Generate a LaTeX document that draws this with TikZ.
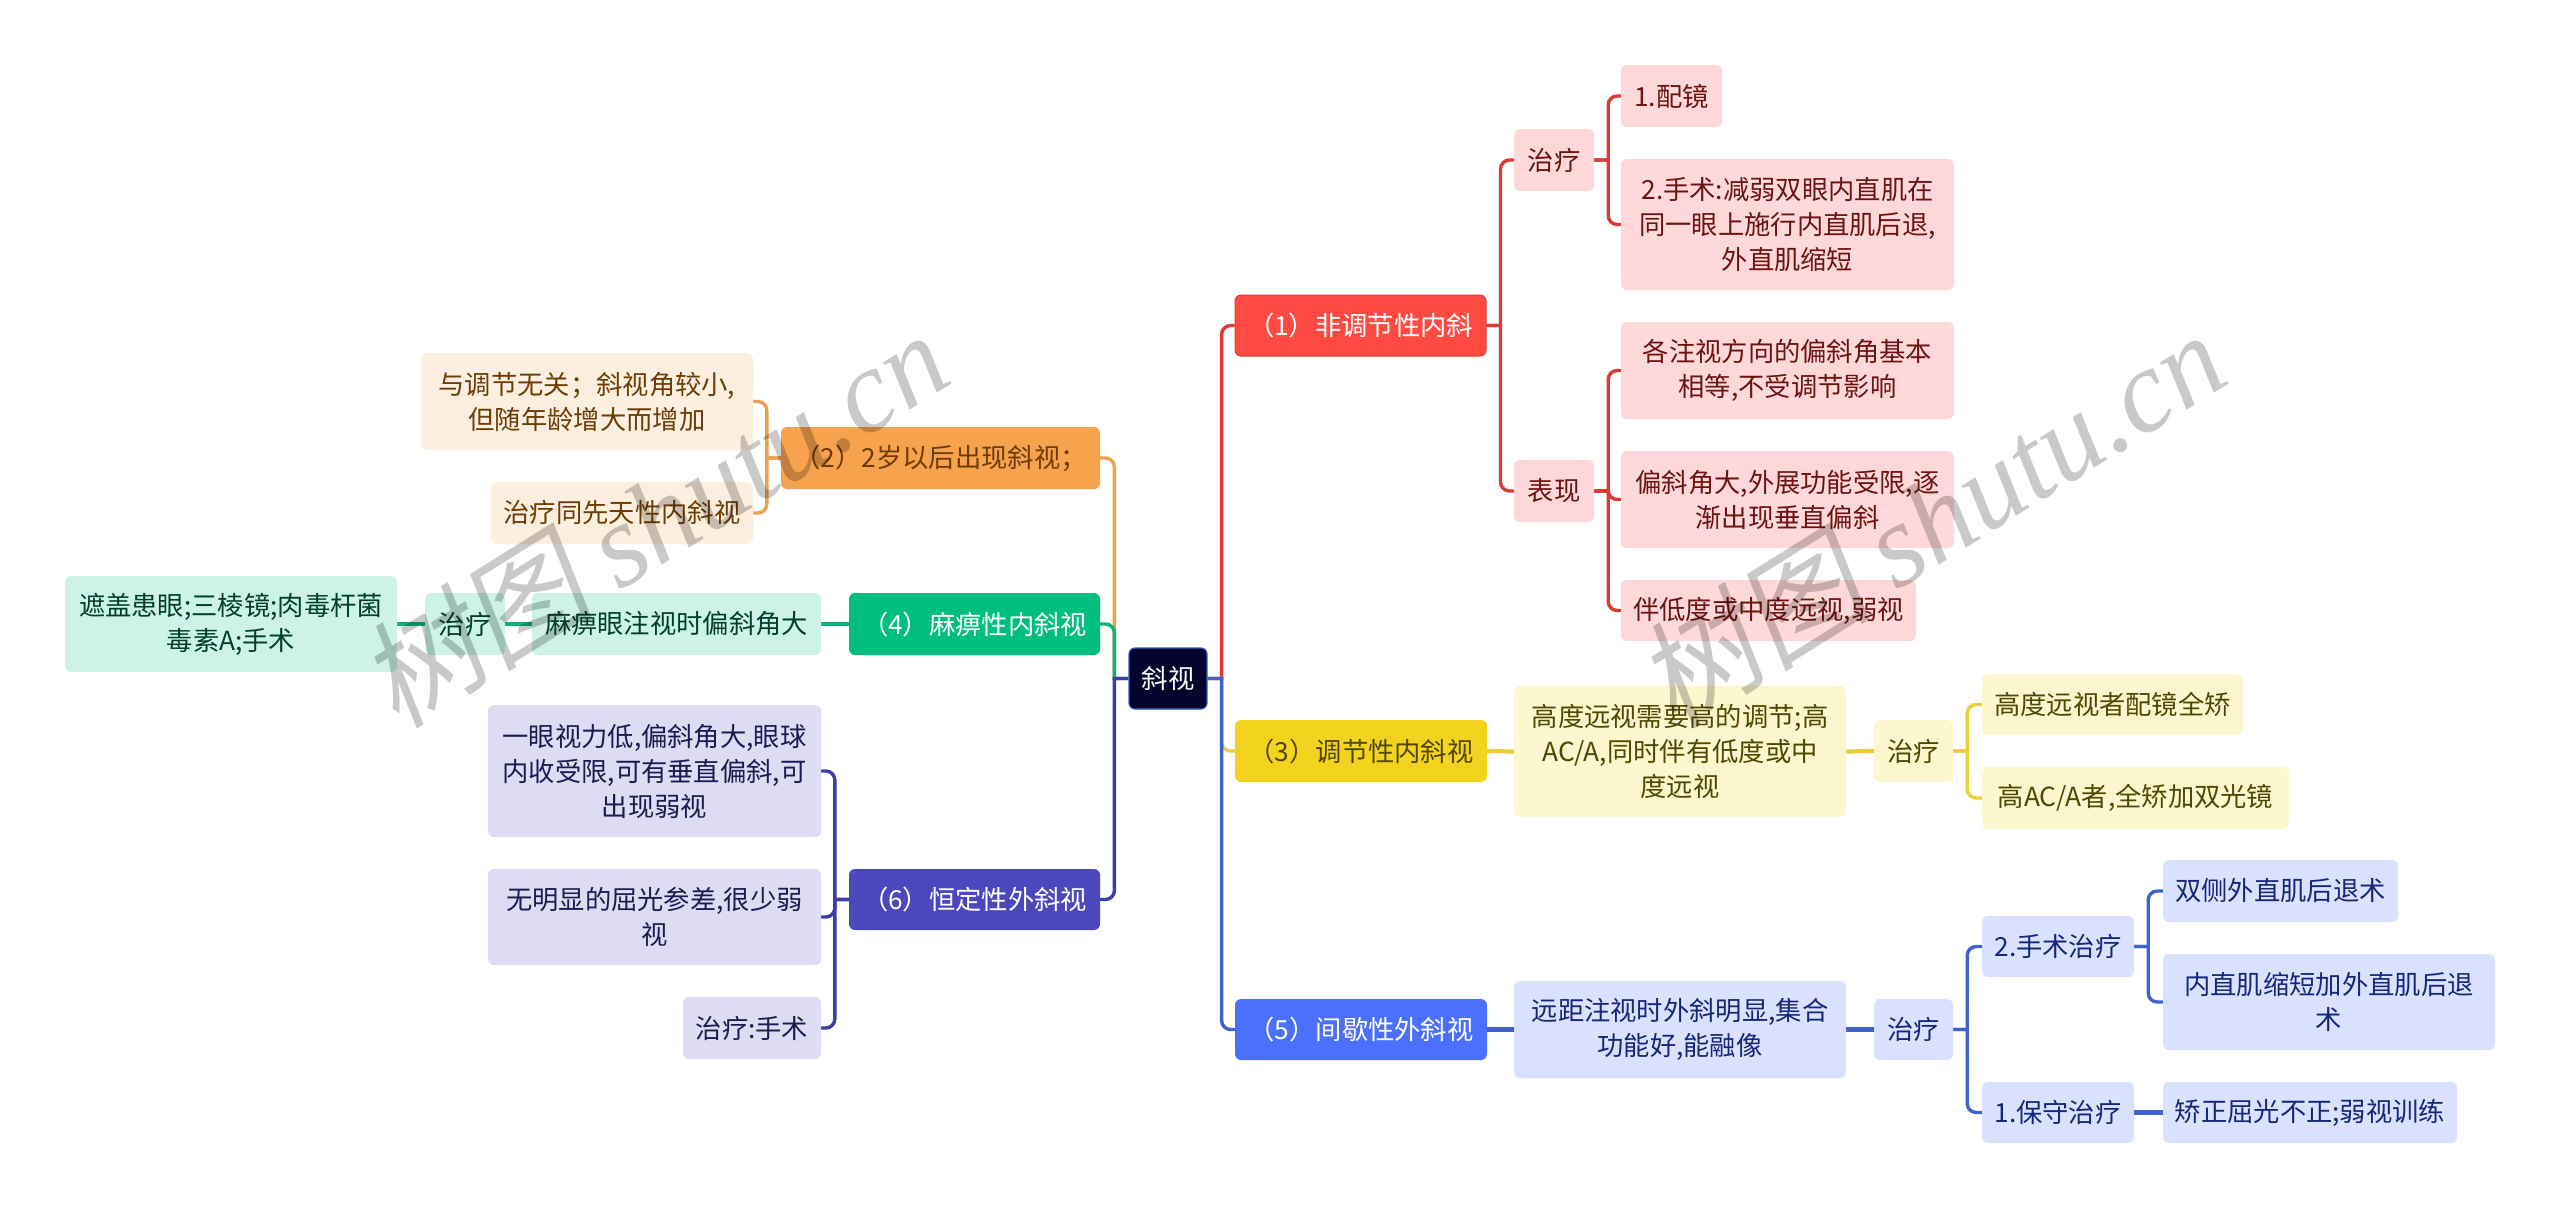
\documentclass[tikz,border=0pt]{standalone}
\usepackage{fontspec}
\setmainfont{Noto Sans CJK SC}
\newfontfamily\wmcjk[FakeSlant=0.18]{Noto Sans CJK SC}
\newfontfamily\wmlat{Liberation Serif}
\usetikzlibrary{calc,backgrounds}
\definecolor{cred}{HTML}{FF4A42}\definecolor{lred}{HTML}{FFD9D9}\definecolor{tred}{HTML}{6E1410}
\definecolor{cora}{HTML}{F7A24D}\definecolor{lora}{HTML}{FDEFDF}\definecolor{tora}{HTML}{6E3C05}
\definecolor{cgrn}{HTML}{00BE7C}\definecolor{lgrn}{HTML}{CCF3E5}\definecolor{tgrn}{HTML}{00402A}
\definecolor{cpur}{HTML}{4B48BE}\definecolor{lpur}{HTML}{DDDCF2}\definecolor{tpur}{HTML}{1B1A52}
\definecolor{cyel}{HTML}{F2D31E}\definecolor{lyel}{HTML}{FDF7CF}\definecolor{tyel}{HTML}{524700}
\definecolor{cblu}{HTML}{4B6FFF}\definecolor{lblu}{HTML}{D9E1FE}\definecolor{tblu}{HTML}{14277A}
\definecolor{lred2}{HTML}{DB3B34}\definecolor{lora2}{HTML}{EDA04F}\definecolor{lgrn2}{HTML}{0DB27A}
\definecolor{lpur2}{HTML}{3F3DA8}\definecolor{lyel2}{HTML}{EDCD3A}\definecolor{lblu2}{HTML}{3F62CF}
\definecolor{rootc}{HTML}{04042E}
\tikzset{
 bxbase/.style={rectangle,rounded corners=6pt,inner sep=0pt,align=center,font=\fontsize{26.3}{35}\selectfont},
 rootbox/.style={bxbase,fill=rootc,draw=cblu!80!black,line width=1.2pt,text=white},
 redmain/.style={bxbase,fill=cred,draw=lred2,line width=1pt,text=white},
 oramain/.style={bxbase,fill=cora,text=tora},
 grnmain/.style={bxbase,fill=cgrn,text=white},
 purmain/.style={bxbase,fill=cpur,text=white},
 yelmain/.style={bxbase,fill=cyel,text=tyel},
 blumain/.style={bxbase,fill=cblu,text=white},
 redsub/.style={bxbase,fill=lred,text=tred},
 orasub/.style={bxbase,fill=lora,text=tora},
 grnsub/.style={bxbase,fill=lgrn,text=tgrn},
 pursub/.style={bxbase,fill=lpur,text=tpur},
 yelsub/.style={bxbase,fill=lyel,text=tyel},
 blusub/.style={bxbase,fill=lblu,text=tblu},
 conn/.style={line width=3.4pt,rounded corners=9pt,line cap=butt},
 straight/.style={line width=4.2pt},
 wmark/.style={text=black,opacity=0.21,text opacity=0.21,rotate=32,inner sep=0pt,font=\fontsize{118}{118}\selectfont},
}
\newcommand\bx[7]{\node[#2,minimum width={(#5-#3)*1pt},minimum height={(#6-#4)*1pt}] (#1) at ({(#3+#5)/2},{(#4+#6)/2}) {#7};}
% branch from parent to child: straight stub, then one rounded bend
\newcommand\brR[3]{\draw[conn,#1] (#2.east) -- ++(15.7,0) ++(-1.7,0) |- (#3.west);}
\newcommand\brL[3]{\draw[conn,#1] (#2.west) -- ++(-15.7,0) ++(1.7,0) |- (#3.east);}
\begin{document}
\begin{tikzpicture}[x=1pt,y=-1pt]
\useasboundingbox (0,0) rectangle (2560,1211);
% nodes
\bx{root}{rootbox}{1129}{648}{1207}{709}{斜视}
\bx{a1}{redmain}{1235}{295}{1486}{356}{（1）非调节性内斜}
\bx{a1z}{redsub}{1514}{129}{1594}{191}{治疗}
\bx{a1za}{redsub}{1621}{65}{1722}{127}{1.配镜}
\bx{a1zb}{redsub}{1621}{159}{1954}{290}{2.手术:减弱双眼内直肌在\\同一眼上施行内直肌后退,\\外直肌缩短}
\bx{a1b}{redsub}{1514}{460}{1594}{522}{表现}
\bx{a1ba}{redsub}{1621}{322}{1954}{419}{各注视方向的偏斜角基本\\相等,不受调节影响}
\bx{a1bb}{redsub}{1621}{451}{1954}{548}{偏斜角大,外展功能受限,逐\\渐出现垂直偏斜}
\bx{a1bc}{redsub}{1621}{580}{1916}{641}{伴低度或中度远视,弱视}
\bx{a2}{oramain}{781}{427}{1100}{489}{（2）2岁以后出现斜视；}
\bx{a2a}{orasub}{421}{353}{753}{450}{与调节无关；斜视角较小,\\但随年龄增大而增加}
\bx{a2b}{orasub}{491}{482}{753}{544}{治疗同先天性内斜视}
\bx{a4}{grnmain}{849}{593}{1100}{655}{（4）麻痹性内斜视}
\bx{a4a}{grnsub}{532}{593}{821}{655}{麻痹眼注视时偏斜角大}
\bx{a4b}{grnsub}{425}{593}{505}{655}{治疗}
\bx{a4c}{grnsub}{65}{576}{397}{672}{遮盖患眼;三棱镜;肉毒杆菌\\毒素A;手术}
\bx{a6}{purmain}{849}{869}{1100}{930}{（6）恒定性外斜视}
\bx{a6a}{pursub}{488}{705}{821}{837}{一眼视力低,偏斜角大,眼球\\内收受限,可有垂直偏斜,可\\出现弱视}
\bx{a6b}{pursub}{488}{869}{821}{965}{无明显的屈光参差,很少弱\\视}
\bx{a6c}{pursub}{683}{997}{821}{1059}{治疗:手术}
\bx{a3}{yelmain}{1235}{720}{1487}{782}{（3）调节性内斜视}
\bx{a3a}{yelsub}{1514}{686}{1846}{817}{高度远视需要高的调节;高\\AC/A,同时伴有低度或中\\度远视}
\bx{a3b}{yelsub}{1874}{720}{1953}{782}{治疗}
\bx{a3c}{yelsub}{1982}{674}{2243}{735}{高度远视者配镜全矫}
\bx{a3d}{yelsub}{1982}{767}{2289}{829}{高AC/A者,全矫加双光镜}
\bx{a5}{blumain}{1235}{999}{1487}{1060}{（5）间歇性外斜视}
\bx{a5a}{blusub}{1514}{981}{1846}{1078}{远距注视时外斜明显,集合\\功能好,能融像}
\bx{a5b}{blusub}{1874}{999}{1953}{1060}{治疗}
\bx{a5c}{blusub}{1982}{916}{2134}{977}{2.手术治疗}
\bx{a5d}{blusub}{2163}{860}{2398}{922}{双侧外直肌后退术}
\bx{a5e}{blusub}{2163}{954}{2495}{1050}{内直肌缩短加外直肌后退\\术}
\bx{a5f}{blusub}{1982}{1082}{2134}{1143}{1.保守治疗}
\bx{a5g}{blusub}{2163}{1082}{2457}{1143}{矫正屈光不正;弱视训练}
% connectors, under the nodes
\begin{pgfonlayer}{background}
\fill[white] (0,0) rectangle (2560,1211);
\brR{lred2}{root}{a1}
\brR{lyel2}{root}{a3}
\brR{lblu2}{root}{a5}
\brL{lora2}{root}{a2}
\brL{lgrn2}{root}{a4}
\brL{lpur2}{root}{a6}
\brR{lred2}{a1}{a1z}
\brR{lred2}{a1}{a1b}
\brR{lred2}{a1z}{a1za}
\brR{lred2}{a1z}{a1zb}
\brR{lred2}{a1b}{a1ba}
\brR{lred2}{a1b}{a1bb}
\brR{lred2}{a1b}{a1bc}
\brL{lora2}{a2}{a2a}
\brL{lora2}{a2}{a2b}
\draw[straight,lgrn2] (a4.west) -- (a4a.east);
\draw[straight,lgrn2] (a4a.west) -- (a4b.east);
\draw[straight,lgrn2] (a4b.west) -- (a4c.east);
\brL{lpur2}{a6}{a6a}
\brL{lpur2}{a6}{a6b}
\brL{lpur2}{a6}{a6c}
\draw[straight,lyel2] (a3.east) -- (a3a.west);
\draw[straight,lyel2] (a3a.east) -- (a3b.west);
\brR{lyel2}{a3b}{a3c}
\brR{lyel2}{a3b}{a3d}
\draw[straight,lblu2] (a5.east) -- (a5a.west);
\draw[straight,lblu2] (a5a.east) -- (a5b.west);
\brR{lblu2}{a5b}{a5c}
\brR{lblu2}{a5b}{a5f}
\brR{lblu2}{a5c}{a5d}
\brR{lblu2}{a5c}{a5e}
\draw[straight,lblu2] (a5f.east) -- (a5g.west);
\end{pgfonlayer}
% watermarks
\node[wmark] (w1) at (653,518) {{\wmcjk 树图} {\wmlat\itshape shutu.cn}};
\node[wmark] (w2) at (1930,518) {{\wmcjk 树图} {\wmlat\itshape shutu.cn}};
\end{tikzpicture}
\end{document}
